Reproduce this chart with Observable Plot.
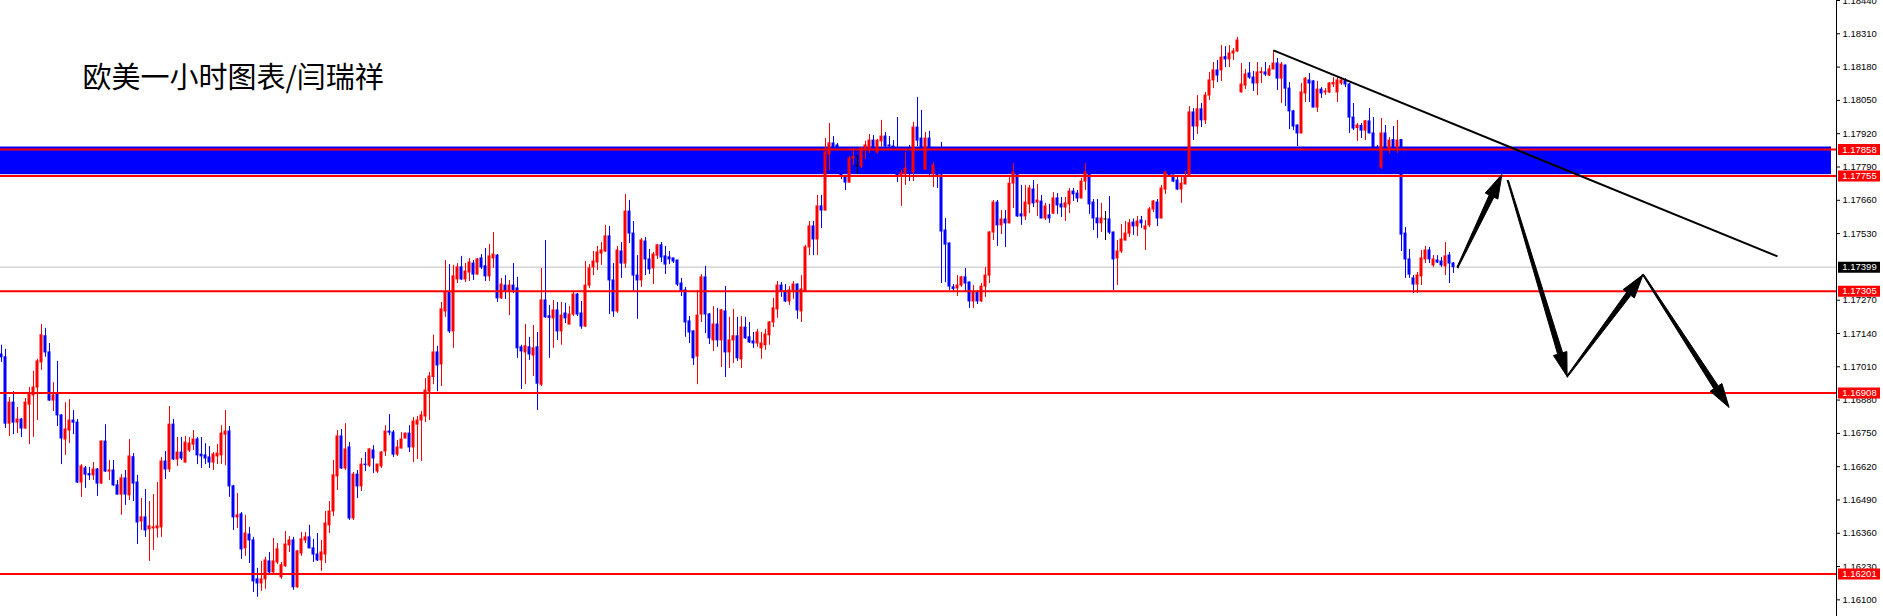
<!DOCTYPE html>
<html><head><meta charset="utf-8">
<script src="https://cdn.jsdelivr.net/npm/d3@7"></script>
<script src="https://cdn.jsdelivr.net/npm/@observablehq/plot@0.6"></script>
<style>html,body{margin:0;padding:0;background:#fff;} #chart svg{display:block}</style>
</head><body><div id="chart"></div>
<script>
// ---- EURUSD H1 candles ----
const open = [1.17058,1.17047,1.16788,1.16870,1.16792,1.16804,1.16769,1.16862,1.16898,1.16929,1.17027,1.17129,1.17066,1.16878,1.16901,1.16820,1.16726,1.16761,1.16800,1.16792,
1.16558,1.16613,1.16591,1.16586,1.16609,1.16554,1.16718,1.16601,1.16605,1.16547,1.16511,1.16574,1.16508,1.16657,1.16558,1.16406,1.16422,1.16375,1.16379,1.16379,
1.16383,1.16640,1.16609,1.16784,1.16648,1.16675,1.16636,1.16683,1.16706,1.16726,1.16667,1.16664,1.16656,1.16636,1.16660,1.16664,1.16745,1.16757,1.16543,1.16422,
1.16434,1.16301,1.16355,1.16332,1.16180,1.16164,1.16180,1.16250,1.16207,1.16246,1.16188,1.16231,1.16313,1.16332,1.16149,1.16281,1.16332,1.16344,1.16301,1.16277,
1.16254,1.16277,1.16391,1.16445,1.16582,1.16738,1.16613,1.16695,1.16418,1.16589,1.16543,1.16628,1.16624,1.16683,1.16601,1.16621,1.16679,1.16757,1.16753,1.16667,
1.16691,1.16730,1.16749,1.16695,1.16784,1.16800,1.16816,1.16913,1.16970,1.17066,1.17019,1.17226,1.17300,1.17148,1.17351,1.17398,1.17351,1.17378,1.17413,1.17370,
1.17433,1.17402,1.17363,1.17433,1.17444,1.17277,1.17327,1.17304,1.17327,1.17316,1.17086,1.17066,1.17086,1.17054,1.17086,1.16940,1.17269,1.17207,1.17199,1.17230,
1.17148,1.17218,1.17175,1.17214,1.17292,1.17218,1.17167,1.17327,1.17398,1.17417,1.17452,1.17460,1.17519,1.17347,1.17226,1.17460,1.17413,1.17616,1.17530,1.17366,
1.17347,1.17499,1.17429,1.17394,1.17444,1.17484,1.17441,1.17437,1.17433,1.17425,1.17335,1.17308,1.17187,1.17148,1.17050,1.17214,1.17359,1.17214,1.17113,1.17175,
1.17113,1.17226,1.17066,1.17113,1.17129,1.17039,1.17163,1.17125,1.17109,1.17101,1.17082,1.17094,1.17133,1.17183,1.17234,1.17327,1.17304,1.17265,1.17308,1.17331,
1.17226,1.17304,1.17476,1.17558,1.17507,1.17636,1.17620,1.17839,1.17882,1.17874,1.17827,1.17753,1.17729,1.17823,1.17794,1.17792,1.17862,1.17858,1.17893,1.17847,
1.17890,1.17909,1.17874,1.17870,1.17847,1.17757,1.17761,1.17784,1.17769,1.17944,1.17901,1.17780,1.17901,1.17761,1.17792,1.17757,1.17542,1.17491,1.17320,1.17316,
1.17327,1.17359,1.17339,1.17265,1.17300,1.17265,1.17323,1.17366,1.17534,1.17651,1.17562,1.17585,1.17570,1.17725,1.17769,1.17605,1.17597,1.17644,1.17702,1.17651,
1.17655,1.17589,1.17601,1.17608,1.17667,1.17644,1.17632,1.17644,1.17694,1.17686,1.17667,1.17733,1.17769,1.17651,1.17589,1.17570,1.17585,1.17585,1.17534,1.17433,
1.17460,1.17503,1.17530,1.17573,1.17558,1.17581,1.17546,1.17562,1.17624,1.17651,1.17589,1.17702,1.17769,1.17757,1.17737,1.17702,1.17722,1.17753,1.18003,1.17948,
1.18015,1.17972,1.18069,1.18128,1.18167,1.18167,1.18219,1.18210,1.18233,1.18241,1.18081,1.18108,1.18155,1.18139,1.18116,1.18157,1.18159,1.18147,1.18171,1.18194,
1.18135,1.18186,1.18096,1.18007,1.17952,1.17921,1.18077,1.18128,1.18124,1.18022,1.18092,1.18081,1.18081,1.18112,1.18081,1.18116,1.18125,1.18112,1.17983,1.17942,
1.17950,1.17932,1.17968,1.17921,1.17866,1.17788,1.17921,1.17854,1.17895,1.17866,1.17895,1.17530,1.17429,1.17355,1.17331,1.17363,1.17429,1.17464,1.17406,1.17425,
1.17421,1.17402,1.17444,1.17413];
const high = [1.17094,1.17078,1.16890,1.16913,1.16851,1.16808,1.16886,1.16929,1.16992,1.17039,1.17175,1.17160,1.17101,1.16948,1.17031,1.16823,1.16870,1.16882,1.16839,1.16804,
1.16628,1.16621,1.16617,1.16636,1.16613,1.16720,1.16784,1.16644,1.16644,1.16566,1.16589,1.16605,1.16726,1.16671,1.16586,1.16496,1.16531,1.16484,1.16511,1.16558,
1.16656,1.16679,1.16855,1.16804,1.16734,1.16734,1.16738,1.16734,1.16761,1.16734,1.16734,1.16710,1.16699,1.16675,1.16706,1.16780,1.16839,1.16777,1.16547,1.16515,
1.16441,1.16430,1.16383,1.16344,1.16223,1.16250,1.16266,1.16285,1.16340,1.16320,1.16246,1.16367,1.16348,1.16344,1.16293,1.16363,1.16363,1.16391,1.16336,1.16359,
1.16332,1.16445,1.16484,1.16644,1.16761,1.16765,1.16788,1.16714,1.16597,1.16605,1.16652,1.16675,1.16691,1.16702,1.16630,1.16679,1.16780,1.16823,1.16761,1.16722,
1.16753,1.16751,1.16780,1.16812,1.16816,1.16835,1.16964,1.16988,1.17133,1.17090,1.17261,1.17425,1.17409,1.17406,1.17413,1.17441,1.17413,1.17433,1.17425,1.17433,
1.17448,1.17472,1.17487,1.17534,1.17448,1.17355,1.17366,1.17347,1.17413,1.17359,1.17094,1.17175,1.17125,1.17171,1.17144,1.17394,1.17503,1.17249,1.17269,1.17261,
1.17261,1.17258,1.17245,1.17300,1.17296,1.17265,1.17421,1.17409,1.17460,1.17480,1.17495,1.17562,1.17558,1.17413,1.17480,1.17495,1.17683,1.17659,1.17577,1.17444,
1.17511,1.17515,1.17468,1.17456,1.17487,1.17495,1.17480,1.17460,1.17433,1.17425,1.17355,1.17320,1.17206,1.17150,1.17308,1.17370,1.17402,1.17218,1.17245,1.17238,
1.17234,1.17323,1.17203,1.17234,1.17203,1.17206,1.17203,1.17183,1.17144,1.17156,1.17144,1.17156,1.17187,1.17277,1.17343,1.17339,1.17331,1.17323,1.17343,1.17333,
1.17366,1.17484,1.17577,1.17577,1.17679,1.17679,1.17901,1.17960,1.17909,1.17882,1.17854,1.17757,1.17831,1.17862,1.17835,1.17866,1.17890,1.17917,1.17913,1.17897,
1.17972,1.17925,1.17909,1.17893,1.17983,1.17776,1.17847,1.17874,1.17964,1.18061,1.18011,1.17925,1.17929,1.17807,1.17815,1.17886,1.17589,1.17493,1.17331,1.17366,
1.17363,1.17394,1.17341,1.17327,1.17308,1.17335,1.17398,1.17538,1.17659,1.17659,1.17620,1.17620,1.17749,1.17804,1.17772,1.17718,1.17718,1.17718,1.17737,1.17722,
1.17679,1.17648,1.17644,1.17690,1.17686,1.17671,1.17671,1.17706,1.17706,1.17698,1.17745,1.17804,1.17796,1.17663,1.17663,1.17648,1.17616,1.17675,1.17536,1.17503,
1.17565,1.17577,1.17585,1.17587,1.17597,1.17597,1.17581,1.17632,1.17659,1.17663,1.17718,1.17772,1.17815,1.17757,1.17749,1.17749,1.17772,1.18026,1.18018,1.18069,
1.18038,1.18081,1.18159,1.18198,1.18206,1.18264,1.18260,1.18264,1.18253,1.18296,1.18194,1.18171,1.18198,1.18163,1.18198,1.18178,1.18198,1.18186,1.18245,1.18214,
1.18198,1.18188,1.18120,1.18011,1.17954,1.18116,1.18139,1.18155,1.18128,1.18124,1.18100,1.18096,1.18120,1.18139,1.18139,1.18139,1.18135,1.18116,1.18038,1.17960,
1.17960,1.17972,1.18018,1.17983,1.17874,1.17979,1.17952,1.17905,1.17948,1.17972,1.17897,1.17554,1.17468,1.17366,1.17378,1.17464,1.17480,1.17476,1.17444,1.17444,
1.17437,1.17495,1.17456,1.17417];
const low = [1.17027,1.16769,1.16738,1.16745,1.16749,1.16734,1.16766,1.16706,1.16734,1.16800,1.16996,1.17047,1.16875,1.16835,1.16777,1.16628,1.16664,1.16710,1.16745,1.16554,
1.16500,1.16535,1.16566,1.16566,1.16504,1.16552,1.16597,1.16566,1.16543,1.16509,1.16430,1.16469,1.16488,1.16484,1.16316,1.16371,1.16344,1.16250,1.16293,1.16341,
1.16344,1.16570,1.16597,1.16644,1.16621,1.16644,1.16634,1.16675,1.16683,1.16628,1.16613,1.16628,1.16613,1.16605,1.16628,1.16628,1.16624,1.16500,1.16371,1.16379,
1.16258,1.16270,1.16242,1.16129,1.16110,1.16133,1.16141,1.16203,1.16203,1.16238,1.16180,1.16227,1.16285,1.16137,1.16145,1.16270,1.16320,1.16299,1.16246,1.16250,
1.16211,1.16242,1.16359,1.16426,1.16527,1.16609,1.16605,1.16410,1.16410,1.16496,1.16523,1.16601,1.16617,1.16593,1.16593,1.16613,1.16660,1.16741,1.16656,1.16660,
1.16689,1.16728,1.16675,1.16636,1.16648,1.16640,1.16792,1.16800,1.16940,1.16913,1.16933,1.17203,1.17140,1.17082,1.17335,1.17347,1.17339,1.17343,1.17347,1.17368,
1.17390,1.17343,1.17343,1.17394,1.17261,1.17273,1.17273,1.17210,1.17296,1.17043,1.16921,1.16940,1.17035,1.16972,1.16839,1.16933,1.17199,1.17043,1.17082,1.17113,
1.17094,1.17179,1.17173,1.17206,1.17206,1.17156,1.17163,1.17316,1.17366,1.17386,1.17406,1.17456,1.17214,1.17203,1.17218,1.17355,1.17394,1.17491,1.17304,1.17195,
1.17320,1.17366,1.17370,1.17331,1.17429,1.17417,1.17370,1.17409,1.17413,1.17323,1.17284,1.17125,1.17101,1.17015,1.16940,1.17183,1.17140,1.17097,1.17070,1.17086,
1.17007,1.16968,1.17003,1.17023,1.17031,1.17003,1.17117,1.17101,1.17082,1.17086,1.17039,1.17074,1.17094,1.17163,1.17199,1.17281,1.17261,1.17249,1.17273,1.17195,
1.17183,1.17302,1.17444,1.17444,1.17444,1.17550,1.17618,1.17776,1.17864,1.17807,1.17741,1.17698,1.17727,1.17796,1.17761,1.17784,1.17819,1.17843,1.17847,1.17839,
1.17866,1.17866,1.17864,1.17831,1.17729,1.17636,1.17718,1.17733,1.17733,1.17870,1.17864,1.17776,1.17757,1.17710,1.17706,1.17335,1.17339,1.17308,1.17300,1.17284,
1.17320,1.17300,1.17238,1.17238,1.17253,1.17261,1.17281,1.17335,1.17503,1.17480,1.17526,1.17476,1.17568,1.17628,1.17593,1.17562,1.17581,1.17608,1.17632,1.17597,
1.17587,1.17581,1.17570,1.17605,1.17605,1.17593,1.17577,1.17608,1.17655,1.17651,1.17665,1.17698,1.17605,1.17542,1.17511,1.17534,1.17503,1.17526,1.17308,1.17327,
1.17452,1.17501,1.17515,1.17523,1.17519,1.17550,1.17464,1.17554,1.17612,1.17558,1.17587,1.17683,1.17749,1.17729,1.17698,1.17648,1.17720,1.17751,1.17893,1.17917,
1.17944,1.17956,1.18050,1.18096,1.18120,1.18124,1.18178,1.18178,1.18206,1.18237,1.18079,1.18092,1.18132,1.18085,1.18069,1.18116,1.18143,1.18143,1.18169,1.18089,
1.18038,1.18026,1.17936,1.17932,1.17870,1.17919,1.18042,1.18042,1.18021,1.18003,1.18057,1.18069,1.18077,1.18100,1.18042,1.18108,1.18100,1.17921,1.17932,1.17890,
1.17901,1.17893,1.17919,1.17864,1.17831,1.17780,1.17854,1.17839,1.17862,1.17843,1.17460,1.17355,1.17355,1.17296,1.17296,1.17327,1.17413,1.17413,1.17398,1.17413,
1.17398,1.17366,1.17335,1.17374];
const close = [1.17047,1.16788,1.16870,1.16792,1.16804,1.16769,1.16870,1.16905,1.16929,1.17031,1.17133,1.17066,1.16878,1.16898,1.16820,1.16730,1.16765,1.16800,1.16792,1.16558,
1.16621,1.16589,1.16586,1.16609,1.16554,1.16718,1.16601,1.16605,1.16547,1.16511,1.16574,1.16511,1.16660,1.16554,1.16402,1.16422,1.16371,1.16387,1.16383,1.16387,
1.16640,1.16609,1.16784,1.16648,1.16675,1.16652,1.16714,1.16710,1.16726,1.16664,1.16660,1.16652,1.16636,1.16667,1.16671,1.16749,1.16757,1.16543,1.16422,1.16430,
1.16297,1.16359,1.16332,1.16172,1.16164,1.16180,1.16254,1.16207,1.16250,1.16297,1.16235,1.16316,1.16332,1.16149,1.16289,1.16336,1.16344,1.16301,1.16277,1.16254,
1.16285,1.16398,1.16445,1.16586,1.16738,1.16613,1.16687,1.16418,1.16589,1.16543,1.16628,1.16626,1.16687,1.16652,1.16628,1.16675,1.16757,1.16753,1.16667,1.16695,
1.16726,1.16749,1.16695,1.16796,1.16800,1.16820,1.16917,1.16972,1.17066,1.17015,1.17234,1.17300,1.17148,1.17363,1.17398,1.17351,1.17382,1.17417,1.17370,1.17429,
1.17398,1.17363,1.17441,1.17448,1.17277,1.17331,1.17304,1.17327,1.17308,1.17082,1.17070,1.17090,1.17058,1.17082,1.16944,1.17269,1.17203,1.17201,1.17230,1.17148,
1.17210,1.17199,1.17214,1.17292,1.17214,1.17167,1.17327,1.17394,1.17421,1.17456,1.17464,1.17519,1.17347,1.17226,1.17464,1.17413,1.17616,1.17530,1.17366,1.17347,
1.17503,1.17429,1.17390,1.17448,1.17484,1.17437,1.17409,1.17429,1.17421,1.17331,1.17304,1.17183,1.17144,1.17043,1.17210,1.17359,1.17214,1.17121,1.17175,1.17113,
1.17230,1.17066,1.17113,1.17129,1.17043,1.17163,1.17121,1.17105,1.17101,1.17144,1.17101,1.17136,1.17183,1.17238,1.17327,1.17304,1.17265,1.17308,1.17331,1.17230,
1.17312,1.17476,1.17558,1.17507,1.17636,1.17620,1.17847,1.17882,1.17866,1.17827,1.17753,1.17729,1.17823,1.17829,1.17794,1.17862,1.17874,1.17893,1.17862,1.17893,
1.17909,1.17870,1.17870,1.17847,1.17753,1.17765,1.17784,1.17769,1.17944,1.17893,1.17866,1.17901,1.17866,1.17796,1.17757,1.17538,1.17487,1.17323,1.17314,1.17327,
1.17359,1.17335,1.17265,1.17300,1.17265,1.17323,1.17366,1.17534,1.17651,1.17562,1.17585,1.17570,1.17725,1.17769,1.17597,1.17597,1.17651,1.17706,1.17648,1.17659,
1.17589,1.17636,1.17589,1.17667,1.17640,1.17632,1.17648,1.17694,1.17683,1.17667,1.17733,1.17769,1.17644,1.17589,1.17570,1.17589,1.17585,1.17534,1.17429,1.17460,
1.17507,1.17530,1.17570,1.17558,1.17577,1.17570,1.17558,1.17624,1.17655,1.17589,1.17706,1.17769,1.17753,1.17733,1.17702,1.17725,1.17749,1.18003,1.17948,1.18015,
1.17972,1.18069,1.18128,1.18167,1.18147,1.18217,1.18210,1.18233,1.18241,1.18284,1.18112,1.18151,1.18139,1.18116,1.18159,1.18160,1.18151,1.18171,1.18194,1.18135,
1.18190,1.18096,1.18007,1.17948,1.17921,1.18081,1.18135,1.18116,1.18022,1.18092,1.18077,1.18085,1.18116,1.18118,1.18128,1.18128,1.18112,1.17983,1.17940,1.17952,
1.17932,1.17968,1.17921,1.17866,1.17847,1.17921,1.17866,1.17893,1.17866,1.17893,1.17526,1.17429,1.17370,1.17331,1.17366,1.17433,1.17464,1.17429,1.17429,1.17417,
1.17406,1.17441,1.17413,1.17399];

// ---- annotations ----
const levels = [1.17858, 1.17755, 1.17305, 1.16908, 1.16201];       // red horizontal lines
const currentPrice = 1.17399;
const zoneFrom = -5, zoneTo = 457.5, zoneLow = 1.17760, zoneHigh = 1.17868; // blue resistance box
const trendStart = [318, 1.18245], trendEnd = [444, 1.17441];         // descending trend line (bar index, price)
const arrowFrom = [[364, 1.17398], [376.6, 1.17737], [391.4, 1.16972], [410.4, 1.17370]];
const arrowTo   = [[375.1, 1.17761], [391.4, 1.16972], [410.4, 1.17370], [431.9, 1.16851]];
const tickValues = [1.18440,1.18310,1.18180,1.18050,1.17920,1.17790,1.17660,1.17530,1.17270,1.17140,1.17010,1.16880,1.16750,1.16620,1.16490,1.16360,1.16230,1.16100];
const titleText = "欧美一小时图表/闫瑞祥";

// ---- build tables ----
const W = 1883, H = 616, plotRight = 47;
const xDomain = [-0.25, 458.75];
const yDomain = [1.16035, 1.18440];
const pxPerX = (W - plotRight) / (xDomain[1] - xDomain[0]);
const pxPerY = H / (yDomain[1] - yDomain[0]);

const candles = open.map((o, i) => ({i, open: o, high: high[i], low: low[i], close: close[i]}));
const candleColor = d => d.close > d.open ? "#ff0000" : d.close < d.open ? "#0000ff" : "#000000";
const zone = [{from: zoneFrom, to: zoneTo, low: zoneLow, high: zoneHigh}];
const trend = [{x1: trendStart[0], y1: trendStart[1], x2: trendEnd[0], y2: trendEnd[1]}];
const tags = levels.map(p => ({price: p, color: "#ff0000"})).concat([{price: currentPrice, color: "#000000"}]);

// arrows drawn as filled wedges with a triangular head (shape computed in screen space, mapped back to data)
const arrowPolys = [];
arrowFrom.forEach((a, k) => {
  const b = arrowTo[k];
  const tx = a[0] * pxPerX, ty = -a[1] * pxPerY, hx = b[0] * pxPerX, hy = -b[1] * pxPerY;
  const len = Math.hypot(hx - tx, hy - ty), ux = (hx - tx) / len, uy = (hy - ty) / len, nx = -uy, ny = ux;
  const L = 24, bx = hx - ux * L, by = hy - uy * L;
  const pts = [[tx + nx * 0.6, ty + ny * 0.6], [bx + nx * 2.6, by + ny * 2.6], [bx + nx * 7, by + ny * 7], [hx, hy],
               [bx - nx * 7, by - ny * 7], [bx - nx * 2.6, by - ny * 2.6], [tx - nx * 0.6, ty - ny * 0.6], [tx + nx * 0.6, ty + ny * 0.6]];
  pts.forEach(p => arrowPolys.push({k, x: p[0] / pxPerX, y: -p[1] / pxPerY}));
});

const chart = Plot.plot({
  width: W, height: H,
  marginLeft: 0, marginRight: plotRight, marginTop: 0, marginBottom: 0,
  x: {domain: xDomain, axis: null},
  y: {domain: yDomain, axis: null},
  style: {background: "white", overflow: "visible", fontFamily: "'Liberation Sans', Arial, sans-serif"},
  marks: [
    Plot.rect(zone, {x1: "from", x2: "to", y1: "low", y2: "high", fill: "#0000ff"}),
    Plot.ruleY([currentPrice], {stroke: "#c0c0c0", strokeWidth: 1}),
    Plot.ruleX(candles, {x: "i", y1: "low", y2: "high", stroke: candleColor, strokeWidth: 1}),
    Plot.rect(candles, {x1: d => d.i - 0.375, x2: d => d.i + 0.375, y1: "open", y2: "close", fill: candleColor, insetTop: -0.5, insetBottom: -0.5}),
    Plot.ruleY(levels, {stroke: "#ff0000", strokeWidth: 2}),
    Plot.link(trend, {x1: "x1", y1: "y1", x2: "x2", y2: "y2", stroke: "#000", strokeWidth: 2}),
    Plot.line(arrowPolys, {x: "x", y: "y", z: "k", fill: "#000", stroke: "#000", strokeWidth: 1, curve: "linear-closed"}),
    Plot.axisY({anchor: "right", ticks: tickValues, tickFormat: d => d.toFixed(5), tickSize: 3, tickPadding: 3, fontSize: 9.5, textStroke: "none"}),
    Plot.ruleX([xDomain[1]], {stroke: "#000", strokeWidth: 1}),
    Plot.ruleY(tags, {y: "price", stroke: "color", strokeWidth: 11, insetLeft: 1838, insetRight: -44}),
    Plot.text(tags, {y: "price", text: d => d.price.toFixed(5), frameAnchor: "right", dx: 23, textAnchor: "middle", fill: "#fff", fontSize: 9.5}),
    Plot.text([titleText], {text: d => d, frameAnchor: "top-left", dx: 82, dy: 78, lineAnchor: "middle", textAnchor: "start", fontSize: 29, fontFamily: "'Noto Sans CJK SC', sans-serif", fill: "#000"})
  ]
});
document.getElementById("chart").appendChild(chart);
</script>
</body></html>
